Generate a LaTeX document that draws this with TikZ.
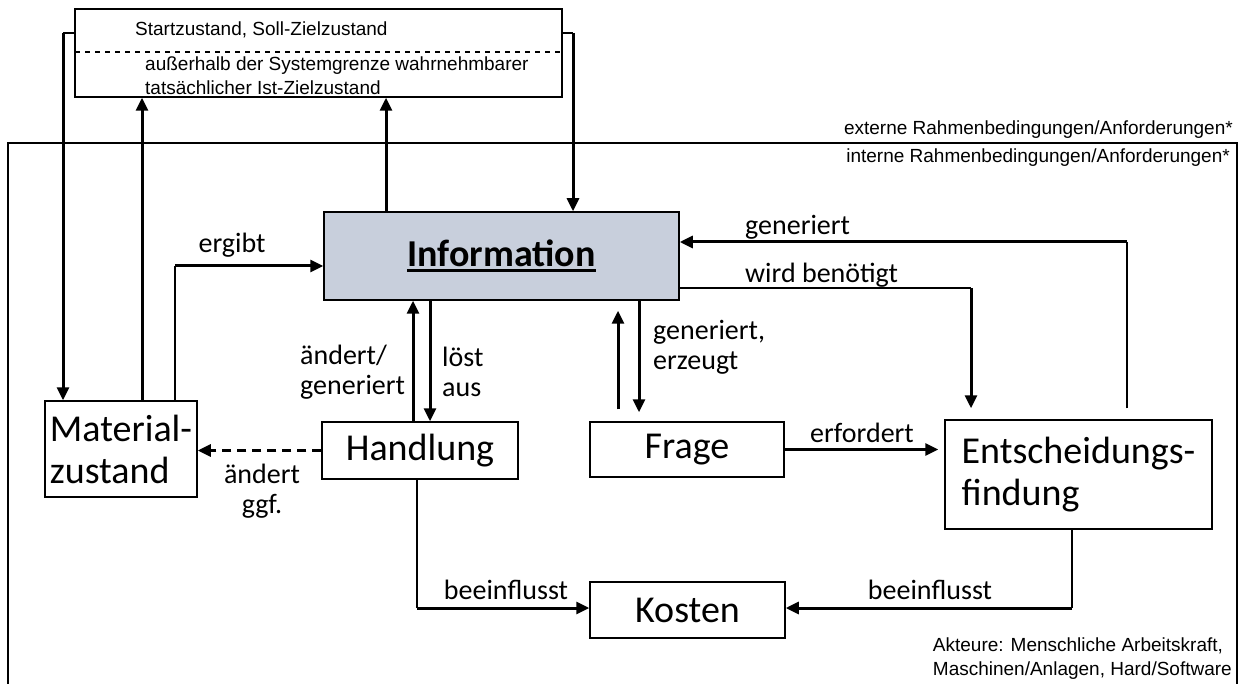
\documentclass[tikz,border=0pt]{standalone}
\usepackage{fontspec}
\setmainfont{Carlito}
\newfontfamily\notefont{Liberation Sans}
\usetikzlibrary{arrows.meta}
\definecolor{infofill}{RGB}{200,207,220}
\newcommand\thickul[1]{\vtop{\hbox{#1}\kern3pt\hrule height 3pt}}
\tikzset{
  box/.style={draw=black,line width=1.5pt,inner sep=0pt,align=left,font=\fontsize{38}{42}\selectfont},
  arr/.style={line width=3pt,-{Triangle[length=13pt,width=12pt]}},
  lnk/.style={line width=1.5pt},
  lbl/.style={font=\fontsize{28}{30}\selectfont,align=left,inner sep=0pt},
  note/.style={font=\notefont\fontsize{19}{24}\selectfont,align=left,inner sep=0pt},
}
\begin{document}
\begin{tikzpicture}[x=1pt,y=-1pt]
        \useasboundingbox (0,0) rectangle (1244,684);

        % System boundary
        \draw[lnk] (8,684) -- (8,143) -- (1237,143) -- (1237,684);
        \node[note,anchor=east] (extern) at (1233,130) {externe Rahmenbedingungen/Anforderungen*};
        \node[note,anchor=east] (intern) at (1230,158) {interne Rahmenbedingungen/Anforderungen*};

        % Target states
        \node[box,minimum width=487pt,minimum height=88pt] (state) at (318.5,53) {};
        \draw[lnk,dash pattern=on 5pt off 5pt] (75,52) -- (562,52);
        \node[note,anchor=west] (soll) at (135,30) {Startzustand, Soll-Zielzustand};
        \node[note,anchor=west] (ist) at (145,76) {außerhalb der Systemgrenze wahrnehmbarer\\tatsächlicher Ist-Zielzustand};

        % Boxes
        \node[box,fill=infofill,minimum width=355pt,minimum height=88pt] (info) at (501.5,256) {\textbf{\thickul{Information}}};
        \node[box,minimum width=152pt,minimum height=96pt] (material) at (121,449) {Material-\\zustand};
        \node[box,minimum width=196pt,minimum height=57pt] (handlung) at (420,450.5) {Handlung};
        \node[box,minimum width=194pt,minimum height=55pt] (frage) at (687,449.5) {Frage};
        \node[box,minimum width=267pt,minimum height=109pt] (entsch) at (1078.5,474.5) {Entscheidungs-\\findung};
        \node[box,minimum width=195pt,minimum height=56pt] (kosten) at (687.5,610) {Kosten};

        % Corners
        \coordinate (sl) at (63,33);
        \coordinate (sr) at (573,33);
        \coordinate (eg) at (175,266);
        \coordinate (ge) at (1127,242);
        \coordinate (wb) at (971,288);
        \coordinate (bl) at (417,608);
        \coordinate (br) at (1072,608);

        % Connectors to and from the target states
        \draw[lnk] (sl -| state.west) -- (sl);
        \draw[arr] (sl) -- (sl |- material.north);
        \draw[lnk] (sr -| state.east) -- (sr);
        \draw[arr] (sr) -- (sr |- info.north);
        \draw[arr] (material.north -| 142,0) -- (state.south -| 142,0);
        \draw[arr] (info.north -| 386,0) -- (state.south -| 386,0);

        % Information loop
        \draw[lnk] (material.north -| eg) -- (eg);
        \draw[arr] (eg) -- (eg -| info.west);
        \draw[arr] (handlung.north -| 413,0) -- (info.south -| 413,0);
        \draw[arr] (info.south -| 430,0) -- (handlung.north -| 430,0);
        \draw[arr,shorten <=12pt,shorten >=10pt] (frage.north -| 618,0) -- (info.south -| 618,0);
        \draw[arr,shorten >=9pt] (info.south -| 639,0) -- (frage.north -| 639,0);
        \draw[lnk,shorten <=11pt] (entsch.north -| ge) -- (ge);
        \draw[arr] (ge) -- (ge -| info.east);
        \draw[lnk] (wb -| info.east) -- (wb);
        \draw[arr,shorten >=11pt] (wb) -- (wb |- entsch.north);
        \draw[arr,shorten >=6pt] (frage.east) -- (entsch.west |- frage.east);
        \draw[arr,dash pattern=on 9pt off 6pt] (handlung.west) -- (material.east |- handlung.west);

        % Costs
        \draw[lnk] (handlung.south -| bl) -- (bl);
        \draw[arr] (bl) -- (bl -| kosten.west);
        \draw[lnk] (entsch.south -| br) -- (br);
        \draw[arr] (br) -- (br -| kosten.east);

        % Labels
        \node[lbl] (l-ergibt) at (232,245) {ergibt};
        \node[lbl,anchor=west] (l-aendert) at (300,372) {ändert/\\generiert};
        \node[lbl,anchor=west] (l-loest) at (442,372) {löst\\aus};
        \node[lbl,anchor=west] (l-erzeugt) at (653,347) {generiert,\\erzeugt};
        \node[lbl,anchor=west] (l-generiert) at (745,227) {generiert};
        \node[lbl,anchor=west] (l-benoetigt) at (745,275) {wird benötigt};
        \node[lbl] (l-erfordert) at (862,433) {erfordert};
        \node[lbl,align=center] (l-ggf) at (262,491) {ändert\\ggf.};
        \node[lbl] (l-kosten1) at (506,590) {beeinflusst};
        \node[lbl] (l-kosten2) at (930,590) {beeinflusst};
        \node[note,anchor=east] (akteure) at (1232,659) {Akteure: Menschliche Arbeitskraft,\\Maschinen/Anlagen, Hard/Software};
\end{tikzpicture}
\end{document}
